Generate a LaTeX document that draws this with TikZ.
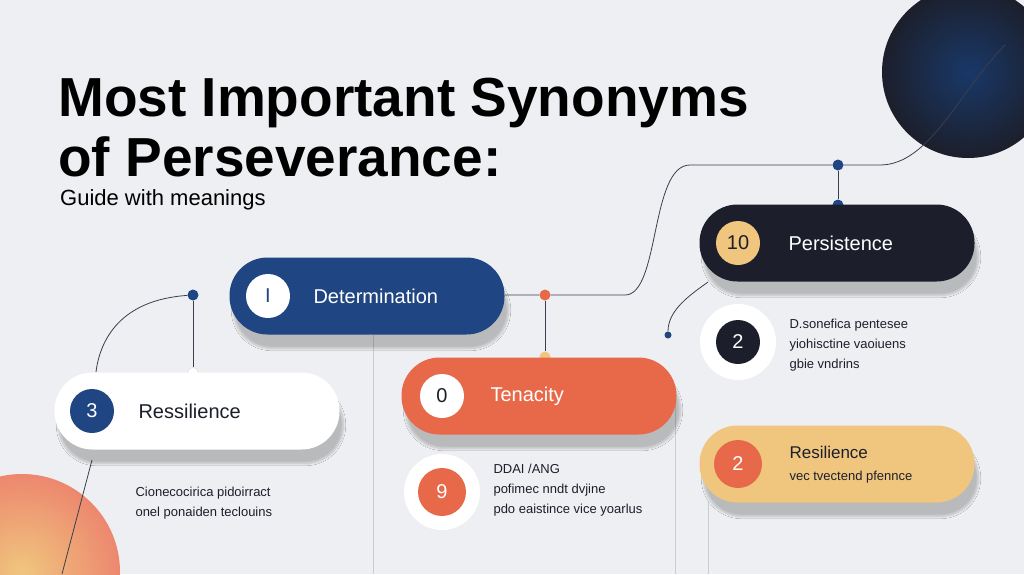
\documentclass[tikz,border=0pt]{standalone}
\usepackage{fontspec}
\setmainfont{Liberation Sans}
\usetikzlibrary{shadows.blur}
\definecolor{bg}{HTML}{EEEFF2}
\definecolor{navy}{HTML}{1F4682}
\definecolor{dark}{HTML}{1C1F2B}
\definecolor{org}{HTML}{E8694A}
\definecolor{tan}{HTML}{F0C67E}
\definecolor{ln}{HTML}{3A3F4E}
\tikzset{
 pill/.style={rounded corners=38pt,minimum width=275pt,minimum height=77pt,blur shadow={shadow blur steps=12,shadow blur extra rounding=10pt,shadow xshift=4pt,shadow yshift=-14pt,shadow opacity=22}},
 num/.style={circle,minimum size=44pt,inner sep=0pt,font=\fontsize{20}{20}\selectfont},
 ring/.style={circle,fill=white,minimum size=76pt,inner sep=0pt},
 lbl/.style={anchor=west,font=\fontsize{20}{20}\selectfont},
 small/.style={anchor=west,align=left,font=\fontsize{13}{20}\selectfont,text=dark},
 dot/.style={circle,fill=navy,minimum size=11pt,inner sep=0pt},
 conn/.style={draw=ln,line width=0.8pt},
 grid/.style={draw=gray!40,line width=0.8pt}
}
\begin{document}
\begin{tikzpicture}[x=1pt,y=-1pt]
\fill[bg] (0,0) rectangle (1024,574);
\useasboundingbox (0,0) rectangle (1024,574);
\begin{scope}
\clip (0,0) rectangle (1024,574);
\shade[inner color=navy!80!black,outer color=dark] (968,72) circle (86);
\shade[inner color=tan,outer color=org!80] (22,572) circle (98);
\end{scope}
% grey verticals
\draw[grid] (373,335) -- (373,574);
\draw[grid] (675,395) -- (675,574);
\draw[grid] (708,502) -- (708,574);
% titles
\node[anchor=west,font=\bfseries\fontsize{55}{55}\selectfont,text=black,inner sep=0pt] (t1) at (58,103) {Most Important Synonyms};
\node[anchor=west,font=\bfseries\fontsize{55}{55}\selectfont,text=black,inner sep=0pt] (t2) at (58,157) {of Perseverance:};
\node[anchor=west,font=\fontsize{22}{22}\selectfont,text=black,inner sep=0pt] (t3) at (60,200) {Guide with meanings};
% connectors
\node[dot] (d1) at (193,295) {};
\node[dot,fill=org] (d2) at (545,295) {};
\node[dot,fill=tan] (d3) at (545,357) {};
\node[dot,fill=white,draw=gray!30] (d4) at (193,373) {};
\node[dot] (d5) at (838,165) {};
\node[dot] (d6) at (838,205) {};
\node[dot,minimum size=7pt] (d7) at (668,335) {};
\coordinate (c0) at (1005,45);
\coordinate (c1) at (92,460);
\coordinate (c2) at (62,574);
\draw[conn] (d1) -- (d4);
\draw[conn] (d2) -- (d3);
\draw[conn] (d5) -- (d6);
\draw[conn] (d1) .. controls (120,300) and (100,340) .. (96,372);
\draw[conn] (c1) -- (c2);
\draw[conn] (505,295) -- (d2) -- (625,295) .. controls (660,295) and (650,165) .. (690,165) -- (d5) -- (880,165) .. controls (930,165) and (960,90) .. (c0);
\draw[conn] (d7) .. controls (668,310) and (690,295) .. (708,282);
% pills
\node[pill,fill=navy] (p1) at (367,296) {};
\node[num,fill=white,text=navy] (n1) at (268,296) {I};
\node[lbl,text=white] at (310,296) {Determination};
\node[pill,fill=org] (p2) at (539,396) {};
\node[num,fill=white,text=dark] (n2) at (442,396) {0};
\node[lbl,text=white] at (487,396) {Tenacity};
\node[pill,fill=white,minimum width=285pt] (p3) at (197,411) {};
\node[num,fill=navy,text=white] (n3) at (92,411) {3};
\node[lbl,text=dark] at (135,411) {Ressilience};
\node[pill,fill=dark] (p4) at (837,243) {};
\node[num,fill=tan,text=dark] (n4) at (738,243) {10};
\node[lbl,text=white] at (785,243) {Persistence};
\node[pill,fill=tan] (p5) at (837,464) {};
\node[num,fill=org,text=white,minimum size=48pt] (n5) at (738,464) {2};
\node[lbl,text=dark,font=\fontsize{17}{17}\selectfont] at (786,452) {Resilience};
\node[small] at (786,477) {vec tvectend pfennce};
% rings
\node[ring] (r1) at (738,342) {};
\node[num,fill=dark,text=white] at (r1) {2};
\node[small] at (786,345) {D.sonefica pentesee\\yiohisctine vaoiuens\\gbie vndrins};
\node[ring] (r2) at (442,492) {};
\node[num,fill=org,text=white,minimum size=48pt] at (r2) {9};
\node[small] at (490,490) {DDAI /ANG\\pofimec nndt dvjine\\pdo eaistince vice yoarlus};
\node[small] at (132,503) {Cionecocirica pidoirract\\onel ponaiden teclouins};
\end{tikzpicture}
\end{document}
